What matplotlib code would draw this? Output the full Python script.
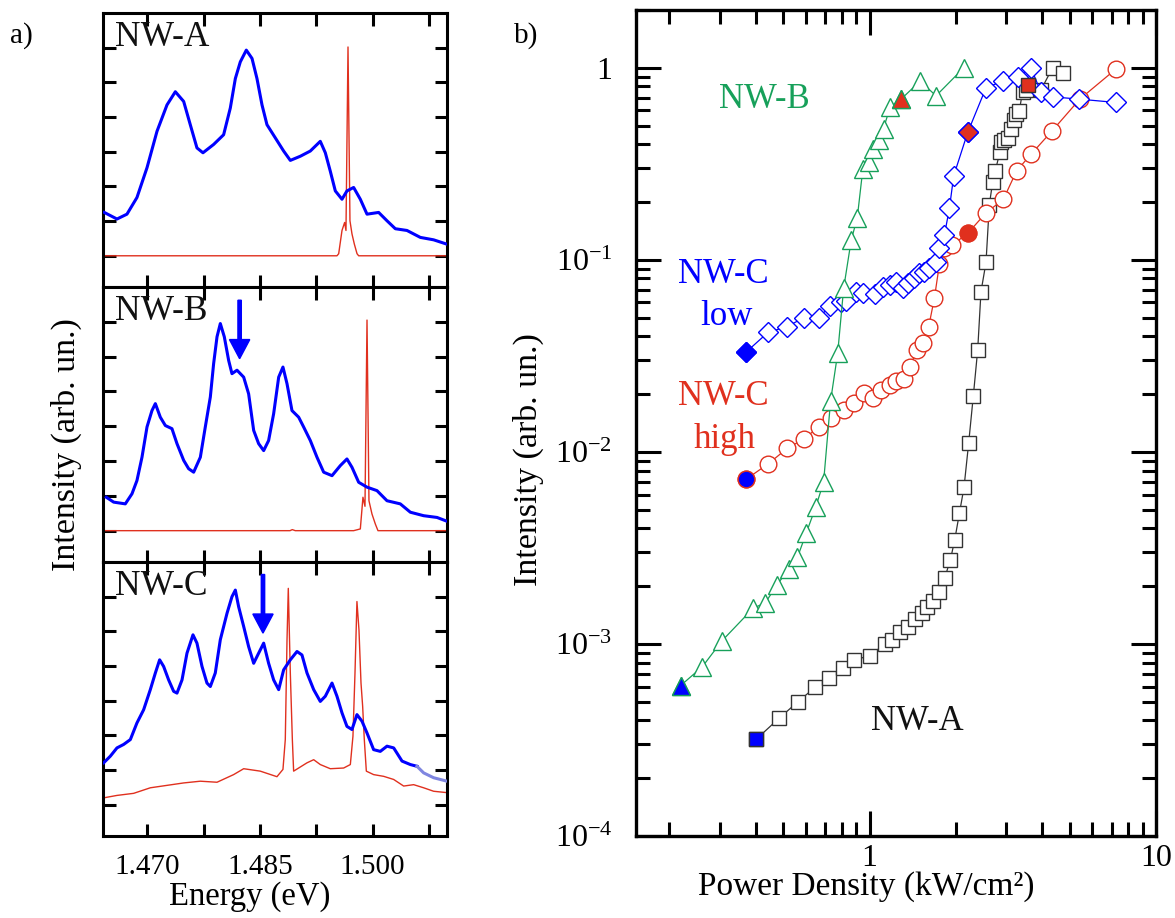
import matplotlib
matplotlib.use("Agg")
import matplotlib.pyplot as plt
import matplotlib.transforms as mtransforms
from matplotlib.ticker import LogLocator, NullFormatter

plt.rcParams['font.family'] = ['Liberation Serif', 'DejaVu Serif']
plt.rcParams['mathtext.fontset'] = 'custom'
plt.rcParams['mathtext.rm'] = 'Liberation Serif'

# ---------------- panel a) spectra (energy in eV, intensity in tick units) -------------
nwa_blue_e = [1.46427, 1.46596, 1.46729, 1.46862, 1.46996, 1.47129, 1.47262, 1.47373, 1.47484,
              1.47572, 1.47661, 1.47741, 1.47883, 1.48016, 1.48105, 1.48172, 1.48238, 1.48318,
              1.48394, 1.48460, 1.48527, 1.48593, 1.48704, 1.48815, 1.48904, 1.49037, 1.49170,
              1.49303, 1.49370, 1.49436, 1.49503, 1.49592, 1.49658, 1.49747, 1.49836, 1.49925,
              1.50080, 1.50191, 1.50302, 1.50457, 1.50635, 1.50812, 1.50981]
nwa_blue_i = [1.25, 1.06, 1.20, 1.68, 2.54, 3.59, 4.35, 4.73, 4.45,
              3.78, 3.11, 2.97, 3.21, 3.49, 4.26, 5.11, 5.59, 5.93,
              5.69, 5.11, 4.35, 3.78, 3.40, 3.02, 2.75, 2.87, 3.02,
              3.30, 2.97, 2.44, 1.87, 1.63, 1.87, 1.97, 1.63, 1.20,
              1.25, 1.01, 0.78, 0.73, 0.53, 0.46, 0.34]
nwa_red_e = [1.4641, 1.49525, 1.49548, 1.49592, 1.49627, 1.49645, 1.49672, 1.49698,
             1.49725, 1.49756, 1.49792, 1.49814, 1.5099]
nwa_red_i = [0, 0, 0.06, 0.73, 0.96, 0.73, 6.02, 1.01, 0.63, 0.34, 0.06, 0, 0]

nwb_blue_e = [1.46454, 1.46552, 1.46707, 1.46796, 1.46862, 1.46929, 1.46996, 1.47062, 1.47107,
              1.47173, 1.47240, 1.47328, 1.47395, 1.47484, 1.47550, 1.47617, 1.47706, 1.47772,
              1.47839, 1.47883, 1.47928, 1.47972, 1.48025, 1.48083, 1.48127, 1.48194, 1.48283,
              1.48349, 1.48416, 1.48482, 1.48549, 1.48615, 1.48682, 1.48749, 1.48806, 1.48860,
              1.48926, 1.49015, 1.49081, 1.49170, 1.49259, 1.49348, 1.49459, 1.49570, 1.49658,
              1.49725, 1.49814, 1.49925, 1.50058, 1.50191, 1.50368, 1.50502, 1.50679, 1.50857,
              1.50990]
nwb_blue_i = [0.96, 0.82, 0.77, 1.06, 1.44, 2.11, 2.98, 3.45, 3.65,
              3.26, 3.02, 2.93, 2.50, 2.02, 1.78, 1.68, 2.11, 2.98,
              3.84, 4.80, 5.57, 5.95, 5.57, 4.89, 4.51, 4.61, 4.41,
              3.93, 2.88, 2.50, 2.30, 2.59, 3.36, 4.41, 4.70, 4.22,
              3.45, 3.26, 2.98, 2.59, 2.11, 1.68, 1.58, 1.87, 2.06,
              1.82, 1.39, 1.25, 1.15, 0.86, 0.77, 0.53, 0.43, 0.38,
              0.27]
nwb_red_e = [1.4641, 1.4890, 1.4893, 1.4897, 1.49747, 1.49836, 1.49871, 1.49898, 1.49925,
             1.49951, 1.49991, 1.50036, 1.50071, 1.5099]
nwb_red_i = [0, 0, 0.03, 0, 0, 0.05, 0.96, 0.70, 6.05, 0.86, 0.48, 0.19, 0, 0]

nwc_blue_e = [1.46419, 1.46507, 1.46596, 1.46685, 1.46774, 1.46862, 1.46951, 1.47040, 1.47107,
              1.47164, 1.47217, 1.47284, 1.47351, 1.47395, 1.47462, 1.47528, 1.47608, 1.47661,
              1.47728, 1.47794, 1.47839, 1.47905, 1.47972, 1.48061, 1.48127, 1.48172, 1.48216,
              1.48283, 1.48349, 1.48416, 1.48482, 1.48549, 1.48615, 1.48682, 1.48749, 1.48815,
              1.48904, 1.48993, 1.49059, 1.49126, 1.49215, 1.49303, 1.49370, 1.49459, 1.49525,
              1.49592, 1.49658, 1.49725, 1.49791, 1.49858, 1.49925, 1.50013, 1.50102, 1.50191,
              1.50280, 1.50391, 1.50502, 1.50590, 1.50679, 1.50812, 1.50990]
nwc_blue_i = [1.21, 1.40, 1.64, 1.74, 1.88, 2.36, 2.74, 3.32, 3.80,
              4.18, 3.99, 3.60, 3.27, 3.22, 3.60, 4.37, 4.90, 4.66,
              3.99, 3.51, 3.41, 3.80, 4.76, 5.52, 6.00, 6.19, 5.71,
              5.14, 4.56, 4.08, 4.37, 4.66, 4.08, 3.60, 3.32, 3.89,
              4.18, 4.42, 4.32, 3.80, 3.32, 2.98, 3.13, 3.51, 3.13,
              2.65, 2.26, 2.17, 2.60, 2.41, 2.07, 1.59, 1.54, 1.69,
              1.64, 1.26, 1.16, 1.11, 0.92, 0.78, 0.68]
nwc_red_e = [1.46419, 1.46596, 1.46818, 1.47040, 1.47262, 1.47484, 1.47706, 1.47928, 1.48149,
             1.48283, 1.48504, 1.48726, 1.48806, 1.48837, 1.48860, 1.48877, 1.48904, 1.48931,
             1.48948, 1.49015, 1.49126, 1.49215, 1.49303, 1.49436, 1.49614, 1.49703, 1.49738,
             1.49765, 1.49791, 1.49818, 1.49845, 1.49867, 1.49889, 1.49916, 1.50013, 1.50147,
             1.50280, 1.50413, 1.50546, 1.50679, 1.50812, 1.50990]
nwc_red_i = [0.20, 0.27, 0.33, 0.49, 0.56, 0.63, 0.68, 0.65, 0.87,
             1.04, 0.97, 0.81, 1.02, 1.88, 4.76, 6.24, 3.80, 1.88,
             0.97, 1.06, 1.21, 1.30, 1.16, 1.04, 1.06, 1.16, 1.98,
             3.80, 5.86, 5.04, 3.51, 2.84, 1.88, 0.97, 0.87, 0.82,
             0.73, 0.54, 0.58, 0.49, 0.39, 0.35]

energy_ticks = [1.470, 1.4775, 1.485, 1.4925, 1.500, 1.5075]
energy_labels = ['1.470', '', '1.485', '', '1.500', '']

# ---------------- panel b) power dependence (kW/cm2, normalised intensity) -------------
nwa_p = [0.403, 0.483, 0.563, 0.645, 0.722, 0.807, 0.882, 1.005, 1.128, 1.20, 1.279, 1.363,
         1.446, 1.526, 1.588, 1.662, 1.744, 1.830, 1.915, 1.983, 2.059, 2.137, 2.218, 2.303,
         2.385, 2.449, 2.550, 2.619, 2.690, 2.748, 2.852, 2.876, 2.951, 3.034, 3.116, 3.199,
         3.244, 3.332, 3.42, 3.515, 3.563, 3.963, 4.353, 4.72]
nwa_i = [3.20e-4, 4.10e-4, 5.01e-4, 5.94e-4, 6.62e-4, 7.47e-4, 8.25e-4, 8.69e-4, 1.0e-3,
         1.049e-3, 1.159e-3, 1.23e-3, 1.344e-3, 1.455e-3, 1.564e-3, 1.68e-3, 1.857e-3,
         2.21e-3, 2.74e-3, 3.48e-3, 4.79e-3, 6.54e-3, 0.0111, 0.0196, 0.0339, 0.0682, 0.0970,
         0.193, 0.255, 0.291, 0.365, 0.412, 0.420, 0.429, 0.483, 0.534, 0.572, 0.595, 0.750,
         0.765, 0.812, 0.765, 1.0, 0.942]
nwa_red_idx = 40

nwb_p = [0.219, 0.261, 0.305, 0.392, 0.433, 0.475, 0.522, 0.560, 0.602, 0.648, 0.691, 0.731,
         0.774, 0.812, 0.863, 0.906, 0.948, 0.992, 1.027, 1.075, 1.119, 1.18, 1.289, 1.501,
         1.707, 2.132]
nwb_i = [6.07e-4, 7.62e-4, 1.036e-3, 1.533e-3, 1.64e-3, 2.03e-3, 2.45e-3, 2.82e-3, 3.80e-3,
         5.14e-3, 6.94e-3, 0.0184, 0.0326, 0.0710, 0.1267, 0.1656, 0.299, 0.3215, 0.380,
         0.420, 0.483, 0.626, 0.687, 0.852, 0.715, 1.0]
nwb_red_idx = 22

nwc_low_p = [0.370, 0.442, 0.516, 0.589, 0.666, 0.726, 0.797, 0.825, 0.899, 0.948, 1.041,
             1.113, 1.174, 1.239, 1.306, 1.360, 1.435, 1.494, 1.555, 1.618, 1.707, 1.753,
             1.825, 1.900, 1.967, 2.201, 2.550, 2.915, 3.287, 3.658, 3.963, 4.353, 5.393, 7.237]
nwc_low_i = [0.0330, 0.0419, 0.0449, 0.0500, 0.0500, 0.0574, 0.0605, 0.061, 0.0682, 0.0669,
             0.0661, 0.0724, 0.0739, 0.0769, 0.0710, 0.0754, 0.0800, 0.0850, 0.0867, 0.0902,
             0.0977, 0.1147, 0.1345, 0.1852, 0.274, 0.4606, 0.787, 0.852, 0.898, 1.0, 0.750,
             0.706, 0.687, 0.660]
nwc_low_red_idx = 25

nwc_high_p = [0.370, 0.442, 0.516, 0.589, 0.666, 0.735, 0.812, 0.880, 0.956, 1.027, 1.098,
              1.174, 1.239, 1.324, 1.386, 1.462, 1.534, 1.609, 1.685, 1.753, 1.825, 1.941,
              2.201, 2.550, 2.931, 3.262, 3.658, 4.330, 5.42, 7.237]
nwc_high_i = [7.19e-3, 8.65e-3, 0.01043, 0.01167, 0.01352, 0.01495, 0.01652, 0.01804, 0.02033,
              0.0190, 0.0210, 0.0223, 0.0234, 0.0241, 0.0278, 0.0339, 0.0367, 0.0449, 0.0635,
              0.0947, 0.1147, 0.1193, 0.1373, 0.1758, 0.2063, 0.291, 0.354, 0.468, 0.687, 0.984]
nwc_high_red_idx = 22

int_ticks = [1e-4, 1e-3, 1e-2, 1e-1, 1]
int_labels = [r'$\mathregular{10^{-4}}$', r'$\mathregular{10^{-3}}$', r'$\mathregular{10^{-2}}$',
              r'$\mathregular{10^{-1}}$', '1']

BLUE = '#0000ff'
RED = '#e0301e'
GREEN = '#17a05a'
GREY = '#333333'

W, H = 1175.0, 918.0
fig = plt.figure(figsize=(W / 100, H / 100), dpi=100)


def box(x0, y0, x1, y1):
    return [x0 / W, 1 - y1 / H, (x1 - x0) / W, (y1 - y0) / H]


def fxy(x, y):
    return x / W, 1 - y / H


# ---- panel a
spectra = [(nwa_blue_e, nwa_blue_i, nwa_red_e, nwa_red_i, 'NW-A'),
           (nwb_blue_e, nwb_blue_i, nwb_red_e, nwb_red_i, 'NW-B'),
           (nwc_blue_e, nwc_blue_i, nwc_red_e, nwc_red_i, 'NW-C')]
rows = [(13, 287), (287, 562), (562, 836)]

for k, (be, bi, re, ri, name) in enumerate(spectra):
    ax = fig.add_axes(box(103, rows[k][0], 447, rows[k][1]))
    ax.plot(re, ri, color=RED, lw=1.0, zorder=2)
    if k == 2:
        ax.plot(be[:58], bi[:58], color=BLUE, lw=2.2, zorder=3)
        ax.plot(be[57:], bi[57:], color='#7f86e0', lw=2.2, zorder=3)
    else:
        ax.plot(be, bi, color=BLUE, lw=2.2, zorder=3)
    ax.set_xlim(1.4641, 1.5099)
    ax.set_ylim(-0.9, 7.0)
    ax.set_yticks(range(7))
    ax.set_yticklabels([])
    ax.set_xticks(energy_ticks)
    if k == 2:
        ax.set_xticklabels(energy_labels, fontsize=21)
        off = mtransforms.ScaledTranslation(-0.10, 0, fig.dpi_scale_trans)
        for lab in ax.get_xticklabels():
            lab.set_transform(lab.get_transform() + off)
    else:
        ax.set_xticklabels([])
    ax.tick_params(direction='in', top=True, right=True, length=9, width=2.2, pad=13)
    for s in ax.spines.values():
        s.set_linewidth(2.2)
    ax.text(0.035, 0.88, name, transform=ax.transAxes, fontsize=25.5, va='baseline',
            color='#111111')

# arrows marking the weak lines
axb = fig.axes[1]
axb.arrow(1.48229, 6.62, 0, -1.68, width=0.00045, head_width=0.0027, head_length=0.55,
          length_includes_head=True, color=BLUE, zorder=4)
axc = fig.axes[2]
axc.arrow(1.48540, 6.64, 0, -1.69, width=0.00045, head_width=0.0027, head_length=0.55,
          length_includes_head=True, color=BLUE, zorder=4)

fig.text(*fxy(66, 445), 'Intensity (arb. un.)', rotation=90, ha='center', va='center',
         fontsize=24.5)
fig.text(*fxy(250, 897), 'Energy (eV)', ha='center', va='center', fontsize=23.5)
fig.text(*fxy(10, 43), 'a)', fontsize=21, va='baseline')

# ---- panel b
ax = fig.add_axes(box(636, 10, 1156, 836))
ax.set_xscale('log')
ax.set_yscale('log')

mk = dict(mfc='white', mew=1.0)
ax.plot(nwa_p, nwa_i, '-', color=GREY, lw=0.9, marker='s', ms=10.5, mec=GREY, **mk)
ax.plot(nwc_high_p, nwc_high_i, '-', color=RED, lw=0.9, marker='o', ms=12, mec=RED, **mk)
ax.plot(nwc_low_p, nwc_low_i, '-', color=BLUE, lw=0.9, marker='D', ms=10.5, mec=BLUE, **mk)
ax.plot(nwb_p, nwb_i, '-', color=GREEN, lw=0.9, marker='^', ms=12.5, mec=GREEN, **mk)

ax.plot(nwa_p[0], nwa_i[0], 's', ms=10.5, mfc=BLUE, mec=GREY, mew=1.0)
ax.plot(nwa_p[nwa_red_idx], nwa_i[nwa_red_idx], 's', ms=10.5, mfc=RED, mec=GREY, mew=1.0)
ax.plot(nwc_high_p[0], nwc_high_i[0], 'o', ms=12, mfc=BLUE, mec=RED, mew=1.0)
ax.plot(nwc_high_p[nwc_high_red_idx], nwc_high_i[nwc_high_red_idx], 'o', ms=12, mfc=RED,
        mec=RED, mew=1.0)
ax.plot(nwc_low_p[0], nwc_low_i[0], 'D', ms=10.5, mfc=BLUE, mec=BLUE, mew=1.0)
ax.plot(nwc_low_p[nwc_low_red_idx], nwc_low_i[nwc_low_red_idx], 'D', ms=10.5, mfc=RED,
        mec=BLUE, mew=1.0)
ax.plot(nwb_p[0], nwb_i[0], '^', ms=12.5, mfc=BLUE, mec=GREEN, mew=1.0)
ax.plot(nwb_p[nwb_red_idx], nwb_i[nwb_red_idx], '^', ms=12.5, mfc=RED, mec=GREEN, mew=1.0)

ax.set_xlim(0.153, 10)
ax.set_ylim(1e-4, 2)
ax.set_xticks([1, 10])
ax.set_xticklabels(['1', '10'], fontsize=23)
ax.xaxis.set_minor_locator(LogLocator(base=10, subs=range(2, 10)))
ax.xaxis.set_minor_formatter(NullFormatter())
ax.set_yticks(int_ticks)
ax.set_yticklabels(int_labels, fontsize=23)
ax.yaxis.set_minor_locator(LogLocator(base=10, subs=range(2, 10)))
ax.yaxis.set_minor_formatter(NullFormatter())
ax.tick_params(which='major', direction='in', top=True, right=True, length=18, width=2.2)
ax.tick_params(which='minor', direction='in', top=True, right=True, length=10, width=2.2)
ax.tick_params(axis='y', which='major', pad=17)
ax.tick_params(axis='x', which='major', pad=6)
for s in ax.spines.values():
    s.set_linewidth(2.4)

fig.text(*fxy(719, 108), 'NW-B', color=GREEN, fontsize=25, va='baseline')
fig.text(*fxy(723, 283), 'NW-C', color=BLUE, fontsize=25, va='baseline', ha='center')
fig.text(*fxy(726, 325), 'low', color=BLUE, fontsize=25, va='baseline', ha='center')
fig.text(*fxy(723, 405), 'NW-C', color=RED, fontsize=25, va='baseline', ha='center')
fig.text(*fxy(725, 448), 'high', color=RED, fontsize=25, va='baseline', ha='center')
fig.text(*fxy(917, 730), 'NW-A', color='#111111', fontsize=25, va='baseline', ha='center')

fig.text(*fxy(528, 460), 'Intensity (arb. un.)', rotation=90, ha='center', va='center',
         fontsize=24.5)
fig.text(*fxy(866, 887), 'Power Density (kW/cm²)', ha='center', va='center', fontsize=24)
fig.text(*fxy(514, 43), 'b)', fontsize=21, va='baseline')

fig.savefig('out.png', dpi=100)
